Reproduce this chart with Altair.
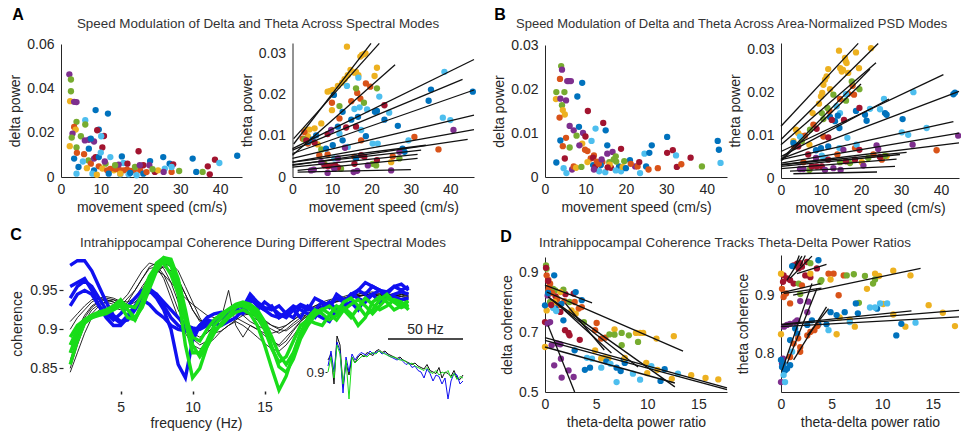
import altair as alt
import pandas as pd

FONT = "Liberation Sans"
TXT = "#262626"
TITLE_COLOR = "#333333"
W, H = 961, 433

COLOR_KEYS = ["B", "O", "Y", "P", "G", "L", "R"]
COLOR_VALUES = ["#0072BD", "#D95319", "#EDB120", "#7E2F8E", "#77AC30", "#4DBEEE", "#A2142F"]

# ---------------- Panel A (left): delta power vs speed ----------------
A1_POINTS = [
    (2.1, 0.0463, "P"), (2.5, 0.0440, "G"), (2.5, 0.0387, "G"), (2.3, 0.0342, "Y"), (3.3, 0.0339, "P"),
    (3.9, 0.0338, "P"), (3.9, 0.0249, "G"), (3.3, 0.0226, "O"), (3.7, 0.0214, "Y"), (2.9, 0.0196, "P"),
    (2.7, 0.0178, "G"), (2.2, 0.0139, "Y"), (3.9, 0.0133, "G"), (5.0, 0.0184, "G"), (6.1, 0.0256, "L"),
    (6.1, 0.0237, "G"), (6.0, 0.0165, "P"), (7.0, 0.0168, "P"), (8.3, 0.0160, "P"), (8.7, 0.0302, "B"),
    (9.5, 0.0214, "B"), (11.8, 0.0286, "B"), (10.8, 0.0185, "R"), (9.1, 0.0211, "R"), (10.1, 0.0184, "L"),
    (7.5, 0.0173, "B"), (7.0, 0.0128, "B"), (10.4, 0.0133, "R"), (3.3, 0.0083, "B"), (4.0, 0.0109, "O"),
    (4.4, 0.0045, "B"), (3.9, 0.0015, "L"), (5.8, 0.0103, "O"), (6.9, 0.0075, "G"), (7.5, 0.0060, "O"),
    (8.3, 0.0083, "P"), (8.7, 0.0090, "R"), (9.5, 0.0090, "B"), (12.4, 0.0090, "L"), (11.2, 0.0060, "G"),
    (9.5, 0.0048, "O"), (10.4, 0.0038, "Y"), (8.3, 0.0030, "B"), (7.9, 0.0015, "L"), (11.6, 0.0030, "O"),
    (13.3, 0.0030, "Y"), (12.4, 0.0037, "O"), (13.6, 0.0037, "O"), (14.5, 0.0033, "O"), (15.0, 0.0030, "O"),
    (15.8, 0.0030, "O"), (16.6, 0.0033, "O"), (17.4, 0.0027, "O"), (18.3, 0.0030, "O"), (19.9, 0.0030, "O"),
    (15.3, 0.0093, "B"), (15.7, 0.0063, "L"), (16.7, 0.0060, "R"), (14.5, 0.0056, "P"), (19.5, 0.0116, "R"),
    (18.6, 0.0045, "G"), (20.7, 0.0015, "B"), (20.7, 0.0053, "R"), (22.4, 0.0072, "B"), (22.2, 0.0053, "P"),
    (23.6, 0.0023, "R"), (24.4, 0.0030, "Y"), (25.7, 0.0090, "B"), (26.1, 0.0038, "L"), (25.8, 0.0023, "P"),
    (27.3, 0.0060, "B"), (28.2, 0.0057, "R"), (27.8, 0.0023, "O"), (27.8, 0.0045, "L"), (29.7, 0.0027, "G"),
    (33.1, 0.0083, "B"), (34.0, 0.0023, "B"), (35.6, 0.0023, "G"), (36.9, 0.0048, "R"), (37.4, 0.0012, "R"),
    (38.7, 0.0078, "R"), (39.8, 0.0063, "L"), (44.3, 0.0096, "B"), (14.9, 0.0012, "L"), (17.0, 0.0012, "L"),
    (19.0, 0.0008, "L"), (17.4, 0.0018, "B"), (19.8, 0.0053, "P"), (13.6, 0.0053, "G"), (14.9, 0.0015, "Y"),
    (6.5, 0.0040, "Y"), (5.5, 0.0070, "L"), (9.0, 0.0010, "Y"), (12.0, 0.0015, "B"), (11.0, 0.0070, "P"),
    (21.5, 0.0022, "O"), (23.0, 0.0035, "G"), (10.0, 0.0110, "L"),
]

# ---------------- Panel A (right): theta power vs speed ----------------
A2_POINTS = [
    (13.8, 0.0316, "Y"), (17.2, 0.0292, "Y"), (17.6, 0.0296, "Y"), (18.1, 0.0298, "Y"), (18.5, 0.0300, "Y"),
    (21.4, 0.0265, "Y"), (20.8, 0.0245, "Y"), (16.1, 0.0255, "Y"), (14.7, 0.0260, "Y"), (14.0, 0.0247, "Y"),
    (13.2, 0.0237, "Y"), (12.6, 0.0229, "Y"), (11.5, 0.0221, "Y"), (10.2, 0.0211, "Y"), (9.6, 0.0209, "Y"),
    (8.9, 0.0207, "Y"), (10.0, 0.0162, "Y"), (7.3, 0.0130, "Y"), (5.6, 0.0118, "Y"), (4.3, 0.0115, "Y"),
    (3.5, 0.0114, "Y"), (3.9, 0.0099, "Y"), (4.9, 0.0089, "Y"), (6.4, 0.0079, "Y"), (25.0, 0.0036, "Y"),
    (15.7, 0.0253, "Y"), (16.7, 0.0247, "Y"),
    (10.0, 0.0180, "O"), (11.9, 0.0142, "O"), (14.9, 0.0184, "O"), (16.4, 0.0204, "O"), (18.6, 0.0227, "O"),
    (19.7, 0.0219, "O"), (17.2, 0.0190, "O"), (17.4, 0.0089, "O"), (3.0, 0.0109, "O"), (2.6, 0.0093, "O"),
    (3.9, 0.0081, "O"), (6.8, 0.0053, "O"), (8.9, 0.0055, "O"), (15.7, 0.0049, "O"), (30.9, 0.0097, "O"),
    (37.0, 0.0067, "O"), (25.4, 0.0050, "O"),
    (11.9, 0.0172, "G"), (16.1, 0.0215, "G"), (21.4, 0.0215, "G"), (18.1, 0.0180, "G"), (3.0, 0.0091, "G"),
    (7.3, 0.0067, "G"), (12.3, 0.0020, "G"), (20.3, 0.0032, "G"), (21.2, 0.0028, "G"), (27.1, 0.0045, "G"),
    (8.1, 0.0032, "G"),
    (13.8, 0.0221, "L"), (16.7, 0.0241, "L"), (15.7, 0.0165, "L"), (17.0, 0.0169, "L"), (22.0, 0.0195, "L"),
    (24.5, 0.0156, "L"), (18.9, 0.0164, "L"), (20.3, 0.0081, "L"), (21.6, 0.0081, "L"), (29.4, 0.0089, "L"),
    (38.5, 0.0255, "L"), (38.1, 0.0144, "L"), (40.0, 0.0138, "L"), (11.9, 0.0105, "L"), (14.0, 0.0073, "L"),
    (10.6, 0.0045, "L"), (17.4, 0.0114, "L"),
    (10.5, 0.0199, "B"), (12.7, 0.0158, "B"), (14.9, 0.0139, "B"), (16.6, 0.0146, "B"), (20.9, 0.0158, "B"),
    (21.4, 0.0160, "B"), (23.3, 0.0139, "B"), (26.7, 0.0124, "B"), (18.6, 0.0099, "B"), (35.1, 0.0212, "B"),
    (34.5, 0.0185, "B"), (45.7, 0.0207, "B"), (3.9, 0.0085, "B"), (5.1, 0.0091, "B"), (8.5, 0.0069, "B"),
    (10.2, 0.0077, "B"), (12.7, 0.0089, "B"), (27.9, 0.0069, "B"), (28.4, 0.0061, "B"), (16.1, 0.0045, "B"),
    (6.0, 0.0101, "B"), (11.5, 0.0122, "B"),
    (8.9, 0.0104, "R"), (13.6, 0.0120, "R"), (16.1, 0.0122, "R"), (23.3, 0.0174, "R"), (21.4, 0.0041, "R"),
    (15.7, 0.0032, "R"), (8.1, 0.0028, "R"), (9.0, 0.0026, "R"), (10.2, 0.0026, "R"), (10.8, 0.0028, "R"),
    (11.5, 0.0023, "R"), (3.5, 0.0089, "R"), (5.6, 0.0083, "R"), (17.4, 0.0053, "R"), (18.2, 0.0049, "R"),
    (4.7, 0.0016, "P"), (5.4, 0.0018, "P"), (8.9, 0.0010, "P"), (10.6, 0.0020, "P"), (15.5, 0.0012, "P"),
    (16.4, 0.0015, "P"), (19.1, 0.0028, "P"), (25.0, 0.0016, "P"), (40.8, 0.0114, "P"), (27.1, 0.0061, "P"),
    (13.3, 0.0071, "P"), (9.8, 0.0114, "P"), (7.3, 0.0036, "P"), (11.5, 0.0045, "P"),
]
A2_FITS = [
    (0.3, 0.0080, 19.9, 0.0324), (0.3, 0.0093, 22.0, 0.0324), (0.0, 0.0053, 26.0, 0.0272),
    (0.0, 0.0069, 46.0, 0.0285), (0.0, 0.0065, 43.1, 0.0237), (0.0, 0.0057, 46.0, 0.0211),
    (0.0, 0.0045, 46.0, 0.0150), (0.0, 0.0036, 46.0, 0.0115), (0.0, 0.0028, 44.4, 0.0091),
    (0.0, 0.0036, 33.8, 0.0077), (0.0, 0.0030, 32.6, 0.0065), (0.0, 0.0024, 31.7, 0.0055),
    (1.3, 0.0016, 31.7, 0.0045), (1.3, 0.0012, 30.0, 0.0018),
]

# ---------------- Panel B (left): delta power vs speed ----------------
B1_POINTS = [
    (4.0, 0.0252, "G"), (4.2, 0.0244, "P"), (3.7, 0.0223, "O"), (5.5, 0.0218, "P"), (5.9, 0.0218, "P"),
    (6.4, 0.0218, "P"), (9.2, 0.0214, "B"), (2.8, 0.0193, "G"), (4.8, 0.0193, "G"), (2.7, 0.0177, "Y"),
    (3.8, 0.0178, "P"), (5.2, 0.0174, "P"), (8.0, 0.0183, "B"), (4.2, 0.0163, "G"), (4.4, 0.0152, "Y"),
    (4.9, 0.0142, "Y"), (3.6, 0.0135, "O"), (10.6, 0.0150, "R"), (14.4, 0.0123, "R"), (15.0, 0.0106, "B"),
    (12.5, 0.0110, "L"), (6.1, 0.0116, "P"), (7.1, 0.0106, "P"), (8.4, 0.0114, "B"), (9.4, 0.0100, "P"),
    (7.8, 0.0094, "G"), (5.2, 0.0089, "O"), (3.8, 0.0083, "B"), (10.0, 0.0092, "R"), (11.5, 0.0082, "L"),
    (15.4, 0.0072, "B"), (4.4, 0.0070, "O"), (6.1, 0.0067, "G"), (9.2, 0.0076, "Y"), (8.5, 0.0072, "P"),
    (9.9, 0.0062, "O"), (18.8, 0.0064, "R"), (16.7, 0.0057, "P"), (15.4, 0.0053, "P"), (17.5, 0.0047, "G"),
    (21.0, 0.0038, "B"), (4.9, 0.0042, "R"), (2.8, 0.0033, "B"), (4.6, 0.0020, "L"), (5.3, 0.0009, "L"),
    (6.7, 0.0017, "P"), (7.1, 0.0024, "O"), (7.7, 0.0021, "Y"), (9.0, 0.0023, "G"), (11.9, 0.0027, "B"),
    (12.1, 0.0049, "O"), (11.3, 0.0042, "O"), (10.5, 0.0034, "Y"), (12.4, 0.0023, "R"), (13.4, 0.0013, "L"),
    (14.9, 0.0011, "L"), (14.2, 0.0034, "O"), (13.8, 0.0027, "B"), (16.3, 0.0021, "R"), (18.3, 0.0024, "B"),
    (19.6, 0.0036, "G"), (18.8, 0.0013, "L"), (22.3, 0.0024, "P"), (22.9, 0.0024, "O"), (23.3, 0.0034, "R"),
    (23.5, 0.0009, "L"), (25.0, 0.0024, "B"), (24.6, 0.0053, "L"), (25.8, 0.0055, "B"), (26.4, 0.0072, "B"),
    (25.6, 0.0017, "O"), (27.9, 0.0020, "O"), (30.2, 0.0091, "B"), (30.2, 0.0055, "R"), (31.6, 0.0061, "R"),
    (32.4, 0.0049, "L"), (32.6, 0.0023, "R"), (33.7, 0.0029, "O"), (36.0, 0.0044, "R"), (38.8, 0.0024, "G"),
    (42.7, 0.0082, "B"), (43.0, 0.0062, "B"), (43.4, 0.0032, "L"), (21.2, 0.0030, "O"), (19.2, 0.0023, "Y"),
    (15.9, 0.0034, "G"), (12.1, 0.0017, "P"), (17.5, 0.0015, "L"), (10.5, 0.0059, "O"), (11.9, 0.0044, "R"),
    (17.0, 0.0040, "G"), (17.6, 0.0035, "G"), (12.8, 0.0035, "O"), (13.3, 0.0030, "O"), (20.0, 0.0020, "B"),
    (16.0, 0.0028, "Y"), (14.0, 0.0040, "P"), (15.5, 0.0022, "R"),
]

# ---------------- Panel B (right): theta power vs speed ----------------
B2_POINTS = [
    (14.5, 0.0298, "Y"), (18.75, 0.0294, "Y"), (22.5, 0.0304, "Y"), (16.0, 0.0281, "Y"), (16.2, 0.0273, "Y"),
    (16.4, 0.0269, "Y"), (14.8, 0.0257, "Y"), (15.2, 0.0249, "Y"), (15.5, 0.0253, "Y"), (16.8, 0.0246, "Y"),
    (19.5, 0.0257, "Y"), (11.8, 0.0255, "Y"), (11.4, 0.0238, "Y"), (11.0, 0.0230, "Y"), (10.6, 0.0218, "Y"),
    (10.3, 0.0199, "Y"), (10.0, 0.0191, "Y"), (12.25, 0.0208, "Y"), (9.5, 0.0174, "Y"), (7.9, 0.0152, "Y"),
    (3.75, 0.0113, "Y"), (4.3, 0.0105, "Y"), (4.9, 0.0099, "Y"), (7.1, 0.0078, "Y"), (3.1, 0.0086, "Y"),
    (20.2, 0.0037, "Y"), (26.4, 0.0051, "Y"),
    (8.1, 0.0125, "O"), (12.1, 0.0157, "O"), (14.75, 0.0185, "O"), (16.8, 0.0197, "O"), (17.9, 0.0216, "O"),
    (18.25, 0.0195, "O"), (6.0, 0.0099, "O"), (3.3, 0.0074, "O"), (10.6, 0.0097, "O"), (14.1, 0.0055, "O"),
    (18.5, 0.0070, "O"), (23.1, 0.0055, "O"), (38.9, 0.0065, "O"), (5.6, 0.0037, "O"), (25.2, 0.0043, "O"),
    (13.1, 0.0195, "G"), (16.25, 0.0181, "G"), (17.7, 0.0226, "G"), (19.6, 0.0208, "G"), (10.2, 0.0152, "G"),
    (10.6, 0.0138, "G"), (7.25, 0.0113, "G"), (11.6, 0.0164, "G"), (5.2, 0.0086, "G"), (17.25, 0.0035, "G"),
    (21.8, 0.0047, "G"), (26.0, 0.0052, "G"), (7.1, 0.0019, "G"), (14.75, 0.0037, "G"),
    (16.25, 0.0196, "L"), (33.1, 0.0201, "L"), (25.75, 0.0185, "L"), (22.25, 0.0162, "L"), (24.75, 0.0161, "L"),
    (13.9, 0.0168, "L"), (14.75, 0.0152, "L"), (16.6, 0.0094, "L"), (18.9, 0.0078, "L"), (30.2, 0.0107, "L"),
    (31.8, 0.0101, "L"), (36.4, 0.0117, "L"), (4.75, 0.0097, "L"), (10.2, 0.0052, "L"), (11.0, 0.0047, "L"),
    (14.6, 0.0070, "L"),
    (14.2, 0.0146, "B"), (13.5, 0.0133, "B"), (14.6, 0.0117, "B"), (18.75, 0.0157, "B"), (21.0, 0.0148, "B"),
    (21.4, 0.0134, "B"), (26.0, 0.0152, "B"), (26.4, 0.0148, "B"), (30.4, 0.0138, "B"), (43.1, 0.0196, "B"),
    (43.5, 0.0200, "B"), (3.1, 0.0082, "B"), (4.1, 0.0076, "B"), (10.0, 0.0070, "B"), (8.75, 0.0065, "B"),
    (11.8, 0.0074, "B"), (12.25, 0.0143, "B"),
    (12.7, 0.0136, "R"), (15.75, 0.0136, "R"), (19.6, 0.0164, "R"), (11.8, 0.0095, "R"), (8.9, 0.0115, "R"),
    (4.3, 0.0074, "R"), (6.8, 0.0055, "R"), (7.7, 0.0027, "R"), (8.9, 0.0027, "R"), (10.2, 0.0027, "R"),
    (11.8, 0.0043, "R"), (16.25, 0.0039, "R"), (18.5, 0.0043, "R"), (19.6, 0.0066, "R"), (24.75, 0.0049, "R"),
    (4.75, 0.0021, "P"), (5.6, 0.0021, "P"), (11.0, 0.0019, "P"), (13.1, 0.0023, "P"), (15.6, 0.0066, "P"),
    (23.9, 0.0076, "P"), (24.3, 0.0068, "P"), (32.9, 0.0078, "P"), (44.3, 0.0099, "P"), (8.75, 0.0047, "P"),
    (20.6, 0.0029, "P"), (14.9, 0.0019, "P"),
]
B2_FITS = [
    (0.0, 0.0121, 19.3, 0.0315), (0.0, 0.0090, 24.3, 0.0315), (0.0, 0.0078, 23.75, 0.0270),
    (0.0, 0.0043, 22.25, 0.0255), (0.0, 0.0040, 20.0, 0.0220), (0.0, 0.0062, 40.6, 0.0242),
    (0.0, 0.0050, 27.0, 0.0185), (0.0, 0.0045, 44.5, 0.0203), (0.0, 0.0043, 43.1, 0.0132),
    (0.0, 0.0035, 44.5, 0.0105), (0.0, 0.0031, 44.5, 0.0082), (0.0, 0.0031, 31.4, 0.0060),
    (0.0, 0.0027, 29.75, 0.0055), (0.0, 0.0022, 28.9, 0.0044), (2.25, 0.0016, 28.5, 0.0027),
    (3.1, 0.0010, 24.0, 0.0014),
]

# ---------------- Panel C: coherence spectra ----------------
FREQ = [1.5, 2.0, 2.5, 3.0, 3.5, 4.0, 4.5, 5.0, 5.5, 6.0, 6.5, 7.0,
        7.5, 8.0, 8.5, 9.0, 9.5, 10.0, 10.5, 11.0, 11.5, 12.0, 12.5, 13.0,
        13.5, 14.0, 14.5, 15.0, 15.5, 16.0, 16.5, 17.0, 17.5, 18.0, 18.5, 19.0,
        19.5, 20.0, 20.5, 21.0, 21.5, 22.0, 22.5, 23.0, 23.5, 24.0, 24.5, 25.0]

C_BLACK = [
    [.870, .895, .915, .928, .935, .938, .935, .930, .940, .950, .965, .980,
     .985, .978, .960, .935, .910, .895, .890, .895, .905, .912, .918, .920,
     .918, .910, .905, .900, .895, .898, .905, .912, .918, .925, .930, .935,
     .938, .940, .942, .945, .945, .948, .945, .942, .945, .944, .942, .940],
    [.850, .880, .905, .920, .930, .935, .938, .935, .945, .960, .975, .985,
     .982, .970, .950, .925, .905, .888, .880, .885, .895, .905, .912, .915,
     .910, .905, .900, .892, .885, .880, .890, .900, .910, .918, .925, .930,
     .935, .938, .940, .942, .943, .945, .943, .940, .942, .940, .938, .936],
    [.900, .915, .925, .935, .940, .942, .940, .936, .935, .940, .950, .962,
     .975, .985, .980, .965, .945, .925, .912, .905, .908, .915, .920, .925,
     .922, .918, .912, .905, .900, .895, .900, .908, .915, .920, .928, .932,
     .936, .938, .940, .943, .945, .947, .948, .946, .944, .946, .945, .943],
    [.910, .920, .930, .938, .940, .938, .935, .930, .932, .940, .955, .968,
     .975, .970, .960, .950, .940, .932, .925, .918, .915, .918, .922, .925,
     .925, .920, .915, .910, .905, .902, .905, .912, .920, .925, .930, .932,
     .935, .936, .938, .940, .942, .944, .945, .944, .942, .943, .945, .944],
    [.880, .900, .918, .930, .936, .940, .938, .932, .930, .935, .945, .958,
     .972, .982, .985, .975, .955, .935, .915, .900, .895, .898, .905, .912,
     .918, .920, .918, .912, .905, .900, .898, .905, .912, .920, .925, .930,
     .934, .936, .938, .941, .943, .944, .946, .945, .943, .945, .947, .946],
    [.860, .890, .910, .925, .932, .935, .932, .928, .930, .938, .952, .965,
     .975, .980, .975, .962, .945, .925, .910, .905, .905, .915, .950, .905,
     .890, .905, .900, .895, .888, .878, .885, .898, .910, .918, .924, .930,
     .933, .936, .939, .941, .943, .944, .942, .940, .941, .943, .942, .941],
    [.845, .870, .895, .915, .925, .930, .928, .925, .935, .950, .965, .978,
     .980, .965, .940, .915, .895, .880, .875, .880, .888, .898, .905, .910,
     .905, .898, .890, .882, .875, .872, .880, .892, .905, .915, .922, .928,
     .932, .935, .938, .940, .942, .944, .945, .943, .941, .943, .944, .942],
]
C_BLUE = [
    [.982, .988, .988, .975, .955, .935, .918, .910, .912, .925, .940, .948,
     .945, .935, .925, .915, .905, .902, .900, .905, .908, .905, .910, .915,
     .925, .940, .930, .925, .930, .915, .920, .925, .915, .930, .925, .935,
     .930, .940, .935, .945, .950, .960, .955, .950, .945, .955, .950, .955],
    [.955, .960, .965, .950, .930, .915, .905, .905, .915, .930, .945, .950,
     .940, .925, .900, .855, .838, .885, .905, .912, .910, .915, .925, .930,
     .928, .945, .935, .928, .925, .930, .920, .915, .930, .925, .940, .935,
     .928, .945, .938, .940, .950, .945, .955, .950, .948, .955, .958, .950],
    [.940, .955, .962, .955, .940, .925, .915, .908, .918, .930, .938, .932,
     .922, .915, .905, .900, .898, .895, .905, .915, .920, .922, .918, .925,
     .922, .938, .932, .925, .918, .915, .922, .930, .925, .920, .915, .928,
     .935, .925, .932, .945, .940, .935, .945, .950, .940, .945, .948, .945],
    [.930, .945, .950, .945, .930, .920, .912, .920, .930, .940, .950, .952,
     .945, .930, .915, .905, .900, .898, .902, .910, .905, .915, .918, .928,
     .920, .930, .925, .935, .928, .920, .915, .925, .932, .928, .920, .915,
     .910, .925, .930, .935, .925, .940, .945, .935, .940, .942, .938, .940],
]
C_GREEN = [
    [.855, .885, .908, .915, .918, .920, .925, .930, .915, .912, .935, .960,
     .985, .992, .985, .945, .880, .838, .850, .878, .900, .905, .915, .922,
     .925, .920, .905, .880, .850, .822, .840, .868, .895, .915, .925, .920,
     .912, .918, .928, .920, .905, .915, .935, .942, .935, .925, .930, .928],
    [.890, .905, .912, .918, .920, .922, .925, .932, .925, .912, .930, .958,
     .980, .992, .990, .965, .925, .880, .865, .878, .895, .908, .918, .928,
     .932, .928, .920, .905, .878, .852, .845, .862, .888, .905, .918, .925,
     .930, .922, .935, .940, .930, .918, .925, .938, .945, .935, .932, .936],
    [.870, .895, .910, .915, .920, .922, .928, .935, .930, .928, .945, .968,
     .982, .985, .970, .945, .915, .890, .885, .900, .912, .920, .926, .932,
     .935, .932, .925, .910, .890, .868, .855, .870, .895, .910, .920, .926,
     .920, .912, .925, .932, .938, .930, .920, .930, .940, .935, .928, .932],
    [.880, .900, .912, .918, .922, .925, .930, .938, .925, .915, .928, .952,
     .975, .988, .982, .955, .910, .870, .870, .885, .905, .915, .925, .930,
     .930, .925, .915, .900, .875, .858, .865, .885, .905, .912, .908, .905,
     .918, .930, .925, .915, .928, .940, .932, .925, .930, .938, .935, .925],
]

# ---------------- Panel C inset: coherence over 0-90 Hz ----------------
INSET_F = [0, 2, 4, 6, 8, 10, 12, 14, 16, 18, 20, 22, 24, 26, 28, 30, 32, 34, 36, 38, 40, 42, 44,
           46, 48, 50, 52, 54, 56, 58, 60, 62, 64, 66, 68, 70, 72, 74, 76, 78, 80, 82, 84, 86, 88, 90]
INSET_BLACK = [.94, .96, .86, 1.02, .99, .85, .93, .89, .95, .93, .95, .96, .95, .965, .96, .955, .97, .975,
               .965, .97, .96, .955, .95, .945, .95, .94, .935, .93, .925, .93, .92, .915, .91, .925, .905,
               .90, .895, .915, .88, .90, .895, .885, .905, .88, .875, .89]
INSET_BLUE = [.92, .97, .90, 1.0, .97, .83, .95, .90, .96, .94, .955, .965, .96, .955, .97, .96, .965, .97,
              .96, .965, .955, .95, .945, .94, .945, .935, .925, .93, .915, .92, .905, .90, .88, .91, .895,
              .87, .89, .885, .86, .88, .81, .87, .895, .89, .86, .87]
INSET_GREEN = [.90, .95, .88, .99, .96, .86, .94, .81, .95, .93, .94, .95, .955, .95, .96, .965, .96, .97,
               .965, .96, .955, .95, .95, .945, .94, .94, .935, .925, .93, .92, .915, .91, .905, .915, .90,
               .895, .905, .89, .90, .895, .905, .88, .895, .875, .885, .88]
SCALE_BAR_HZ = (40, 90)

# ---------------- Panel D (left): delta coherence vs ratio ----------------
D1_POINTS = [
    (0.1, 0.922, "G"), (0.16, 0.911, "G"), (0.1, 0.914, "R"), (0.16, 0.889, "O"), (0.33, 0.874, "O"),
    (0.5, 0.861, "O"), (0.9, 0.889, "B"), (0.33, 0.839, "O"), (0.26, 0.822, "P"), (0.8, 0.844, "G"),
    (1.0, 0.839, "G"), (1.04, 0.819, "R"), (2.0, 0.826, "R"), (1.8, 0.841, "G"), (1.5, 0.833, "Y"),
    (2.8, 0.828, "R"), (3.0, 0.833, "B"), (1.9, 0.803, "O"), (1.3, 0.789, "O"), (0.16, 0.772, "Y"),
    (0.0, 0.789, "B"), (1.0, 0.778, "B"), (2.4, 0.800, "G"), (1.5, 0.767, "R"), (2.6, 0.772, "Y"),
    (1.8, 0.739, "B"), (0.5, 0.733, "P"), (0.0, 0.733, "R"), (0.26, 0.728, "P"), (3.6, 0.806, "B"),
    (3.3, 0.778, "O"), (3.0, 0.761, "Y"), (3.6, 0.783, "O"), (1.96, 0.706, "R"), (2.3, 0.697, "R"),
    (2.4, 0.689, "R"), (3.4, 0.674, "R"), (3.8, 0.733, "G"), (5.05, 0.730, "O"), (4.9, 0.706, "O"),
    (5.5, 0.678, "O"), (5.9, 0.681, "O"), (6.8, 0.709, "Y"), (6.3, 0.692, "G"), (6.8, 0.691, "G"),
    (7.5, 0.697, "G"), (8.2, 0.689, "G"), (7.5, 0.656, "G"), (8.9, 0.697, "Y"), (9.3, 0.697, "Y"),
    (9.6, 0.697, "Y"), (9.1, 0.667, "G"), (10.9, 0.678, "Y"), (12.6, 0.686, "Y"), (0.0, 0.650, "Y"),
    (0.65, 0.656, "P"), (1.24, 0.661, "P"), (1.5, 0.659, "P"), (0.9, 0.589, "P"), (1.56, 0.611, "P"),
    (1.63, 0.548, "P"), (2.3, 0.572, "P"), (2.8, 0.550, "P"), (2.9, 0.639, "B"), (3.9, 0.574, "B"),
    (4.4, 0.581, "B"), (4.1, 0.614, "L"), (4.6, 0.611, "L"), (4.9, 0.639, "Y"), (5.5, 0.612, "Y"),
    (5.8, 0.614, "Y"), (6.2, 0.612, "Y"), (5.5, 0.581, "L"), (6.0, 0.602, "B"), (6.4, 0.594, "L"),
    (7.0, 0.581, "B"), (7.4, 0.570, "B"), (7.0, 0.533, "L"), (7.7, 0.608, "B"), (7.8, 0.597, "B"),
    (7.8, 0.614, "Y"), (8.6, 0.561, "L"), (9.3, 0.541, "L"), (9.9, 0.597, "Y"), (10.0, 0.563, "Y"),
    (11.0, 0.574, "Y"), (10.4, 0.586, "L"), (11.7, 0.576, "B"), (12.4, 0.544, "Y"), (13.0, 0.561, "L"),
    (11.3, 0.537, "B"), (14.3, 0.556, "Y"), (15.7, 0.547, "Y"), (16.95, 0.542, "Y"), (1.6, 0.794, "B"),
    (2.9, 0.800, "O"), (0.4, 0.850, "O"), (0.7, 0.830, "O"), (0.3, 0.870, "R"), (0.5, 0.800, "G"),
    (0.8, 0.780, "L"), (1.2, 0.810, "O"), (0.9, 0.800, "Y"), (0.6, 0.790, "R"), (0.3, 0.830, "B"),
    (1.1, 0.770, "L"),
]
D1_FITS = [
    (0.0, 0.856, 4.6, 0.797), (0.2, 0.833, 13.5, 0.636), (0.3, 0.817, 12.7, 0.517),
    (0.5, 0.811, 9.1, 0.583), (1.0, 0.800, 6.5, 0.630), (0.0, 0.681, 17.8, 0.514),
    (0.0, 0.672, 17.8, 0.508), (0.0, 0.650, 12.7, 0.530), (0.3, 0.722, 2.9, 0.500),
    (2.0, 0.795, 5.8, 0.640),
]

# ---------------- Panel D (right): theta coherence vs ratio ----------------
D2_POINTS = [
    (1.25, 0.951, "R"), (1.6, 0.954, "R"), (1.9, 0.955, "R"), (2.07, 0.949, "R"), (1.74, 0.946, "R"),
    (2.57, 0.957, "R"), (0.26, 0.934, "R"), (0.6, 0.929, "R"), (0.9, 0.926, "R"), (0.2, 0.923, "R"),
    (1.25, 0.920, "R"), (2.4, 0.934, "R"), (3.55, 0.946, "R"), (2.9, 0.931, "R"),
    (3.7, 0.960, "B"), (1.1, 0.950, "B"),
    (2.9, 0.955, "G"), (3.9, 0.923, "G"), (4.0, 0.926, "G"), (1.9, 0.902, "G"), (1.74, 0.920, "G"),
    (0.1, 0.911, "O"), (0.5, 0.903, "O"), (0.9, 0.886, "O"), (0.26, 0.897, "O"), (4.7, 0.937, "O"),
    (5.2, 0.937, "O"), (6.2, 0.934, "O"), (5.7, 0.900, "O"), (2.07, 0.917, "O"),
    (0.0, 0.937, "Y"), (2.9, 0.937, "Y"), (4.9, 0.927, "Y"), (9.3, 0.937, "Y"), (9.7, 0.933, "Y"),
    (11.1, 0.942, "Y"), (12.8, 0.934, "Y"), (8.5, 0.911, "Y"), (10.1, 0.885, "Y"), (14.6, 0.883, "Y"),
    (16.0, 0.870, "Y"), (17.2, 0.847, "Y"), (11.1, 0.867, "Y"), (12.3, 0.846, "Y"), (7.3, 0.846, "Y"),
    (6.8, 0.858, "Y"), (5.5, 0.833, "Y"), (5.8, 0.862, "Y"), (0.0, 0.833, "Y"),
    (7.2, 0.936, "G"), (6.5, 0.934, "G"), (8.3, 0.933, "G"), (9.1, 0.920, "G"), (9.3, 0.927, "G"),
    (7.7, 0.887, "G"),
    (1.9, 0.890, "P"), (2.7, 0.889, "P"), (2.6, 0.871, "P"), (1.6, 0.857, "P"), (1.4, 0.854, "P"),
    (0.9, 0.851, "P"), (0.6, 0.849, "P"), (0.3, 0.846, "P"), (0.2, 0.791, "P"), (0.1, 0.783, "P"),
    (0.0, 0.751, "P"),
    (4.9, 0.871, "B"), (5.5, 0.866, "B"), (6.3, 0.871, "B"), (7.4, 0.886, "B"), (7.6, 0.869, "B"),
    (9.5, 0.877, "B"), (11.9, 0.851, "B"), (11.4, 0.831, "B"), (3.06, 0.857, "B"), (2.6, 0.849, "B"),
    (3.7, 0.850, "B"), (4.5, 0.850, "B"), (1.4, 0.843, "B"), (1.6, 0.834, "B"), (0.9, 0.823, "B"),
    (0.0, 0.789, "B"), (0.26, 0.783, "B"), (0.1, 0.777, "B"), (0.6, 0.774, "B"), (0.4, 0.771, "B"),
    (0.9, 0.780, "B"),
    (8.8, 0.879, "L"), (9.3, 0.879, "L"), (9.8, 0.886, "L"), (10.5, 0.886, "L"), (13.3, 0.853, "L"),
    (4.7, 0.840, "L"), (6.8, 0.854, "L"), (0.4, 0.751, "L"), (0.26, 0.763, "L"), (1.1, 0.803, "L"),
    (1.7, 0.826, "O"), (1.9, 0.811, "O"), (1.9, 0.803, "O"), (2.9, 0.837, "O"), (3.3, 0.840, "O"),
    (3.6, 0.847, "O"), (2.6, 0.831, "O"), (1.25, 0.817, "O"), (0.9, 0.794, "O"),
]
D2_FITS = [
    (1.2, 0.900, 13.8, 0.946), (0.0, 0.849, 17.6, 0.874), (0.0, 0.846, 17.6, 0.863),
    (0.0, 0.850, 12.9, 0.873), (0.6, 0.783, 3.55, 0.911), (1.25, 0.789, 4.5, 0.880),
    (0.1, 0.771, 3.06, 0.920), (0.6, 0.926, 2.07, 0.967), (0.9, 0.929, 3.06, 0.967),
    (1.58, 0.937, 4.5, 0.953), (0.0, 0.904, 3.9, 0.920), (0.3, 0.903, 4.0, 0.912),
    (1.3, 0.945, 1.8, 0.968), (1.9, 0.950, 2.4, 0.968), (2.6, 0.831, 4.7, 0.877),
]


# ---------------- helpers ----------------
def axis(orient, offset, values, title, fmt=None, **kw):
    d = dict(orient=orient, offset=offset, values=values, title=title, grid=False,
             domainColor=TXT, domainWidth=1, ticks=False, tickSize=0,
             labelFont=FONT, labelFontSize=14, labelColor=TXT, labelPadding=5,
             labelFlush=False, labelOverlap=False,
             titleFont=FONT, titleFontSize=14, titleFontWeight="normal", titleColor=TXT,
             titlePadding=4)
    if fmt:
        d["format"] = fmt
    d.update(kw)
    return alt.Axis(**d)


def color_enc():
    return alt.Color("c:N", scale=alt.Scale(domain=COLOR_KEYS, range=COLOR_VALUES), legend=None)


def scatter_panel(points, fits, xdom, xrng, ydom, yrng, xvals, yvals, xtitle, ytitle):
    xs = alt.Scale(domain=xdom, range=xrng, nice=False, zero=False)
    ys = alt.Scale(domain=ydom, range=yrng, nice=False, zero=False)
    xa = axis("bottom", yrng[0] - H, xvals, xtitle, fmt="d", labelPadding=5, titlePadding=4)
    ya = axis("left", -xrng[0], yvals, ytitle, fmt="~g", labelPadding=7, titlePadding=4)
    pts = alt.Chart(pd.DataFrame(points, columns=["x", "y", "c"])).mark_circle(
        size=40, opacity=1
    ).encode(
        x=alt.X("x:Q", scale=xs, axis=xa),
        y=alt.Y("y:Q", scale=ys, axis=ya),
        color=color_enc(),
    )
    layers = [pts]
    if fits:
        ln = alt.Chart(pd.DataFrame(fits, columns=["x", "y", "x2", "y2"])).mark_rule(
            color="#111111", strokeWidth=1.3
        ).encode(
            x=alt.X("x:Q", scale=xs, axis=xa),
            y=alt.Y("y:Q", scale=ys, axis=ya),
            x2="x2:Q",
            y2="y2:Q",
        )
        layers.append(ln)
    return alt.layer(*layers)


def long_df(series, xs):
    rows = []
    for k, s in enumerate(series):
        assert len(s) == len(xs), (len(s), len(xs))
        for f, v in zip(xs, s):
            rows.append({"f": f, "v": v, "s": k})
    return pd.DataFrame(rows)


def text_layer(s, x, y, size=13.4, weight="normal", align="center", color=TITLE_COLOR):
    return alt.Chart(pd.DataFrame({"t": [s]})).mark_text(
        font=FONT, fontSize=size, fontWeight=weight, align=align, baseline="middle", color=color
    ).encode(x=alt.value(x), y=alt.value(y), text="t:N")


# ---------------- build panels ----------------
A1 = scatter_panel(A1_POINTS, None, [0, 45.5], [61, 242], [0, 0.06], [177, 44],
                   [0, 10, 20, 30, 40], [0, 0.02, 0.04, 0.06], "movement speed (cm/s)", "delta power")
A2 = scatter_panel(A2_POINTS, A2_FITS, [0, 46], [292.5, 474], [0, 0.0325], [177, 43],
                   [0, 10, 20, 30, 40], [0, 0.01, 0.02, 0.03], "movement speed (cm/s)", "theta power")
B1 = scatter_panel(B1_POINTS, None, [0, 45], [545, 727], [0, 0.03], [177, 45],
                   [0, 10, 20, 30, 40], [0, 0.01, 0.02, 0.03], "movement speed (cm/s)", "delta power")
B2 = scatter_panel(B2_POINTS, B2_FITS, [0, 44.5], [781, 959], [0, 0.0316], [178, 43],
                   [0, 10, 20, 30, 40], [0, 0.01, 0.02, 0.03], "movement speed (cm/s)", "theta power")
D1 = scatter_panel(D1_POINTS, D1_FITS, [0, 17.8], [545, 727], [0.5, 0.95], [392, 257],
                   [0, 5, 10, 15], [0.5, 0.7, 0.9], "theta-delta power ratio", "delta coherence")
D2 = scatter_panel(D2_POINTS, D2_FITS, [0, 17.6], [781, 959], [0.734, 0.969], [392, 255],
                   [0, 5, 10, 15], [0.8, 0.9], "theta-delta power ratio", "theta coherence")

# Panel C main
cx = alt.Scale(domain=[1.0, 25.24], range=[63, 412], nice=False, zero=False)
cy = alt.Scale(domain=[0.821, 0.994], range=[391, 256], nice=False, zero=False)
c_xaxis = axis("bottom", 391 - H, [5, 10, 15], "frequency (Hz)", fmt="d", domain=False, ticks=True,
               tickSize=3, tickWidth=1.5, tickColor=TXT, labelPadding=6, titlePadding=2, titleX=196)
c_yaxis = axis("left", -63, [0.85, 0.9, 0.95], "coherence", fmt=".2~f", domain=False, ticks=True,
               tickSize=4, tickWidth=1.2, tickColor=TXT, labelPadding=2, titlePadding=5)


def c_lines(series, color, width):
    return alt.Chart(long_df(series, FREQ)).mark_line(color=color, strokeWidth=width).encode(
        x=alt.X("f:Q", scale=cx, axis=c_xaxis),
        y=alt.Y("v:Q", scale=cy, axis=c_yaxis),
        detail="s:N",
    )


C_MAIN = alt.layer(
    c_lines(C_BLACK, "#111111", 0.9),
    c_lines(C_BLUE, "#1010f0", 3.4),
    c_lines(C_GREEN, "#19dd19", 3.4),
)

# Panel C inset
ix = alt.Scale(domain=[0, 90], range=[328, 463], nice=False, zero=False)
iy = alt.Scale(domain=[0.80, 1.03], range=[402, 333], nice=False, zero=False)
i_yaxis = axis("left", -327, [0.9], None, fmt=".1f", domain=False, ticks=True, tickSize=2,
               tickColor=TXT, labelPadding=1, labelFontSize=13)


def inset_line(vals, color):
    df = pd.DataFrame({"f": INSET_F, "v": vals})
    return alt.Chart(df).mark_line(color=color, strokeWidth=1).encode(
        x=alt.X("f:Q", scale=ix, axis=None),
        y=alt.Y("v:Q", scale=iy, axis=i_yaxis),
    )


bar_df = pd.DataFrame({"x": [SCALE_BAR_HZ[0]], "x2": [SCALE_BAR_HZ[1]], "y": [1.01],
                       "tx": [(SCALE_BAR_HZ[0] + SCALE_BAR_HZ[1]) / 2], "ty": [1.04], "t": ["50 Hz"]})
scale_bar = alt.Chart(bar_df).mark_rule(color="#111111", strokeWidth=1.3).encode(
    x=alt.X("x:Q", scale=ix, axis=None), x2="x2:Q", y=alt.Y("y:Q", scale=iy, axis=i_yaxis)
)
scale_txt = alt.Chart(bar_df).mark_text(font=FONT, fontSize=14, color=TXT, baseline="middle").encode(
    x=alt.X("tx:Q", scale=ix, axis=None), y=alt.Y("ty:Q", scale=iy, axis=i_yaxis), text="t:N"
)
C_INSET = alt.layer(
    inset_line(INSET_BLACK, "#111111"),
    inset_line(INSET_BLUE, "#1010f0"),
    inset_line(INSET_GREEN, "#19dd19"),
    scale_bar,
    scale_txt,
)

texts = [
    text_layer("A", 18, 15, size=16, weight="bold", color="#000000"),
    text_layer("B", 500, 15, size=16, weight="bold", color="#000000"),
    text_layer("C", 16, 235, size=16, weight="bold", color="#000000"),
    text_layer("D", 506, 237, size=16, weight="bold", color="#000000"),
    text_layer("Speed Modulation of Delta and Theta Across Spectral Modes", 258, 24),
    text_layer("Speed Modulation of Delta and Theta Across Area-Normalized PSD Modes", 516, 24,
               size=13, align="left"),
    text_layer("Intrahippocampal Coherence During Different Spectral Modes", 263, 243),
    text_layer("Intrahippocampal Coherence Tracks Theta-Delta Power Ratios", 725, 243),
]

chart = alt.layer(A1, A2, B1, B2, C_MAIN, C_INSET, D1, D2, *texts).resolve_scale(
    x="independent", y="independent"
).properties(
    width=W, height=H, autosize=alt.AutoSizeParams(type="none"), padding=0, background="white"
).configure_view(strokeWidth=0)

chart.save("out.html", embed_options={"renderer": "svg", "actions": False})
